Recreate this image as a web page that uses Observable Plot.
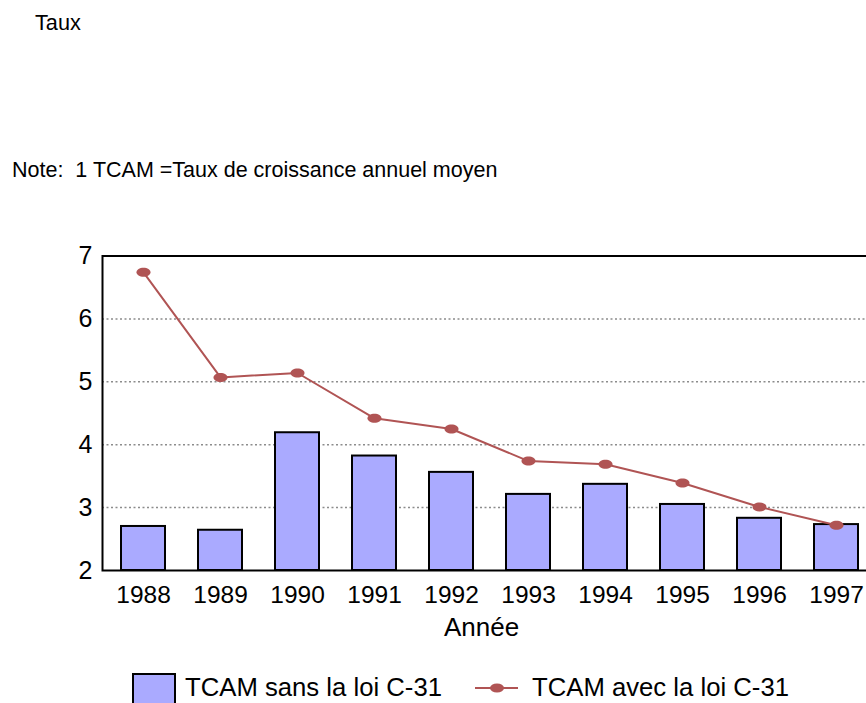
<!DOCTYPE html>
<html>
<head>
<meta charset="utf-8">
<script src="https://cdn.jsdelivr.net/npm/d3@7"></script>
<script src="https://cdn.jsdelivr.net/npm/@observablehq/plot@0.6"></script>
<style>
  html, body { margin: 0; padding: 0; overflow: hidden; background: #fff; }
  body { width: 866px; height: 703px; position: relative; font-family: "Liberation Sans", Arial, sans-serif; }
  .abs { position: absolute; line-height: 1; white-space: nowrap; color: #000; }
  #chart { position: absolute; left: 0; top: 0; width: 876px; }
  #chart svg { max-width: none !important; }
</style>
</head>
<body>
<div class="abs" style="left:35px; top:12px; font-size:21.7px;">Taux</div>
<div class="abs" style="left:12px; top:160px; font-size:21.5px;">Note:&nbsp;&nbsp;1 TCAM =Taux de croissance annuel moyen</div>
<div id="chart"></div>
<div class="abs" style="left:132px; top:673px; width:40px; height:40px; background:#aaaaff; border:2px solid #000;"></div>
<div class="abs" style="left:185px; top:674.5px; font-size:25.7px;">TCAM sans la loi C-31</div>
<svg class="abs" style="left:470px; top:678px;" width="54" height="20">
  <line x1="5" y1="10" x2="48" y2="10" stroke="#b05454" stroke-width="2"/>
  <ellipse cx="27" cy="10" rx="7" ry="4.5" fill="#b05454"/>
</svg>
<div class="abs" style="left:532px; top:674.5px; font-size:25.7px;">TCAM avec la loi C-31</div>
<script>
const years = ["1988","1989","1990","1991","1992","1993","1994","1995","1996","1997"];
const sansLoi = [2.70, 2.64, 4.19, 3.82, 3.56, 3.21, 3.37, 3.05, 2.83, 2.73];
const avecLoi = [6.74, 5.07, 5.14, 4.42, 4.25, 3.74, 3.69, 3.39, 3.01, 2.72];
const yTicks = [2, 3, 4, 5, 6, 7];
const gridTicks = [3, 4, 5, 6];
const xTitle = "Année";

const barData = years.map((y, i) => ({year: y, value: sansLoi[i]}));
const lineData = years.map((y, i) => ({year: y, value: avecLoi[i]}));

const lineColor = "#b05454";
const ellipse = {
  draw(ctx) {
    const rx = 7, ry = 4.5, k = 0.5523;
    ctx.moveTo(rx, 0);
    ctx.bezierCurveTo(rx, ry * k, rx * k, ry, 0, ry);
    ctx.bezierCurveTo(-rx * k, ry, -rx, ry * k, -rx, 0);
    ctx.bezierCurveTo(-rx, -ry * k, -rx * k, -ry, 0, -ry);
    ctx.bezierCurveTo(rx * k, -ry, rx, -ry * k, rx, 0);
    ctx.closePath();
  }
};

const chart = Plot.plot({
  width: 876,
  height: 703,
  marginLeft: 102,
  marginRight: 0,
  marginTop: 255.5,
  marginBottom: 133,
  style: {fontFamily: "Liberation Sans, Arial, sans-serif", color: "#000", background: "transparent", overflow: "visible", maxWidth: "none"},
  x: {type: "band", domain: years, paddingInner: 0.43, paddingOuter: 0.23, label: null},
  y: {domain: [2, 7], label: null},
  marks: [
    Plot.ruleY(gridTicks, {stroke: "#8c8c8c", strokeWidth: 1.5, strokeDasharray: "2,2.5"}),
    Plot.barY(barData, {x: "year", y1: 2, y2: "value", fill: "#aaaaff", stroke: "#000", strokeWidth: 2}),
    Plot.frame({stroke: "#000", strokeWidth: 2}),
    Plot.line(lineData, {x: "year", y: "value", stroke: lineColor, strokeWidth: 2}),
    Plot.dot(lineData, {x: "year", y: "value", fill: lineColor, symbol: ellipse, r: 5}),
    Plot.axisY(yTicks, {tickSize: 0, tickPadding: 10, fontSize: 25, tickFormat: d3.format("d"), label: null}),
    Plot.axisX({tickSize: 0, tickPadding: 15, fontSize: 24.5, label: null}),
    Plot.text([xTitle], {frameAnchor: "bottom", lineAnchor: "middle", dx: -8, dy: 57, fontSize: 26, fill: "#000"})
  ]
});
document.getElementById("chart").appendChild(chart);
</script>
</body>
</html>
